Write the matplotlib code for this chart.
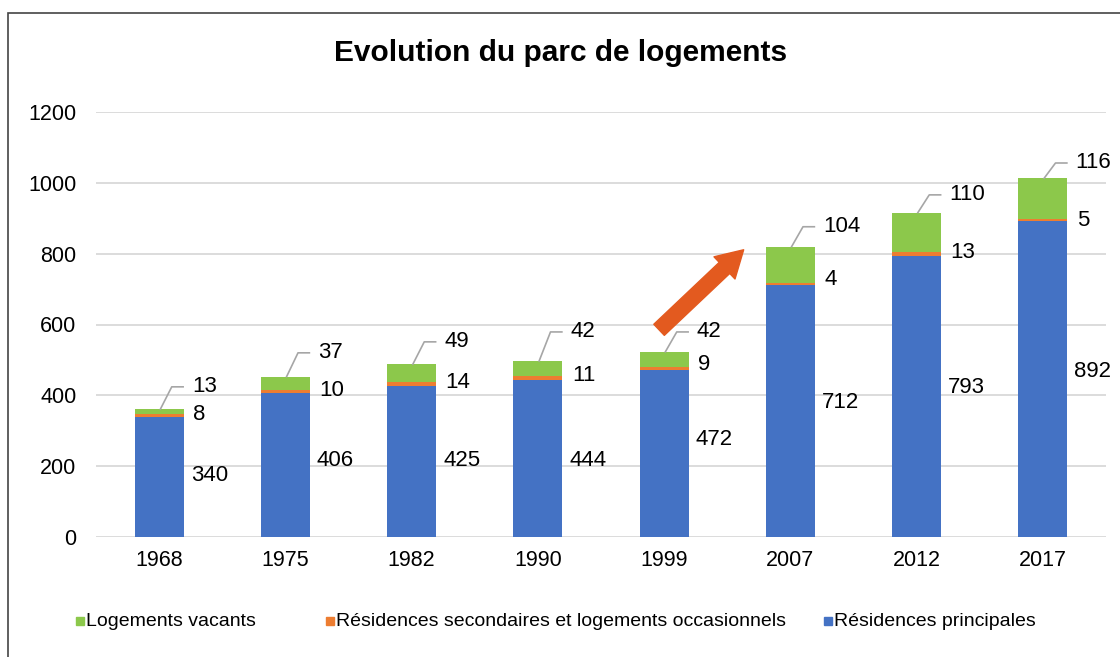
import matplotlib.pyplot as plt
from matplotlib.patches import Rectangle
import numpy as np

plt.rcParams['font.family'] = ['Liberation Sans', 'DejaVu Sans']

years = ['1968', '1975', '1982', '1990', '1999', '2007', '2012', '2017']
principales = [340, 406, 425, 444, 472, 712, 793, 892]
secondaires = [8, 10, 14, 11, 9, 4, 13, 5]
vacants = [13, 37, 49, 42, 42, 104, 110, 116]

# label heights (data units), the labels were hand placed in the original
y_lab_princ = [175, 217, 217, 217, 274, 381, 421, 466]
y_lab_sec = [345, 415, 437, 455, 486, 726, 802, 895]
y_lab_vac = [424, 520, 551, 579, 579, 876, 966, 1056]

blue = '#4472C4'
orange = '#ED7D31'
green = '#8CC84B'

fig = plt.figure(figsize=(11.2, 6.57), dpi=100)
ax = fig.add_axes([96 / 1120, 1 - 537 / 657, 1010 / 1120, 425 / 657])

x = np.arange(len(years))
princ = np.array(principales)
sec = np.array(secondaires)
vac = np.array(vacants)
w = 0.39

ax.bar(x, princ, w, color=blue, zorder=2)
ax.bar(x, sec, w, bottom=princ, color=orange, zorder=2)
ax.bar(x, vac, w, bottom=princ + sec, color=green, zorder=2)

# axes
ax.set_xlim(-0.5, len(years) - 0.5)
ax.set_ylim(0, 1200)
ax.set_yticks(range(0, 1201, 200))
ax.set_xticks(x)
ax.set_xticklabels(years)
ax.tick_params(length=0, labelsize=15.5)
ax.tick_params(axis='y', pad=14)
ax.tick_params(axis='x', pad=9)
ax.grid(axis='y', color='#d9d9d9', lw=1.3, zorder=0)
for s in ax.spines.values():
    s.set_visible(False)

# data labels
for i in x:
    top = princ[i] + sec[i] + vac[i]
    ax.text(i + 0.25, y_lab_princ[i], str(principales[i]), va='center', fontsize=16)
    ax.text(i + 0.27, y_lab_sec[i], str(secondaires[i]), va='center', fontsize=16)
    ax.text(i + 0.26, y_lab_vac[i], str(vacants[i]), va='center', fontsize=16)
    ax.plot([i + 0.01, i + 0.1, i + 0.19], [top, y_lab_vac[i], y_lab_vac[i]],
            color='#a6a6a6', lw=1.2, zorder=3)

# growth arrow
ax.annotate('', xy=(4.63, 811), xytext=(3.96, 585),
            arrowprops=dict(arrowstyle='simple,head_length=0.95,head_width=1.1,tail_width=0.55',
                            mutation_scale=20, color='#E35A1F', shrinkA=0, shrinkB=0))

fig.text(561 / 1120, 1 - 53 / 657, 'Evolution du parc de logements',
         ha='center', va='center', fontsize=21.5, fontweight='bold')

# legend
legend_items = [('Logements vacants', green, 80),
                ('Résidences secondaires et logements occasionnels', orange, 330),
                ('Résidences principales', blue, 828)]
for label, col, px in legend_items:
    fig.patches.append(Rectangle(((px - 4) / 1120, 1 - 625 / 657), 8 / 1120, 8 / 657,
                                 transform=fig.transFigure, color=col))
    fig.text((px + 6) / 1120, 1 - 621 / 657, label, va='center', fontsize=14)

# chart frame
fig.patches.append(Rectangle((8 / 1120, -0.05), 1.2, 1.05 - 13 / 657,
                             transform=fig.transFigure, fill=False,
                             edgecolor='#444444', lw=1.2))

fig.savefig('out.png', dpi=100)
